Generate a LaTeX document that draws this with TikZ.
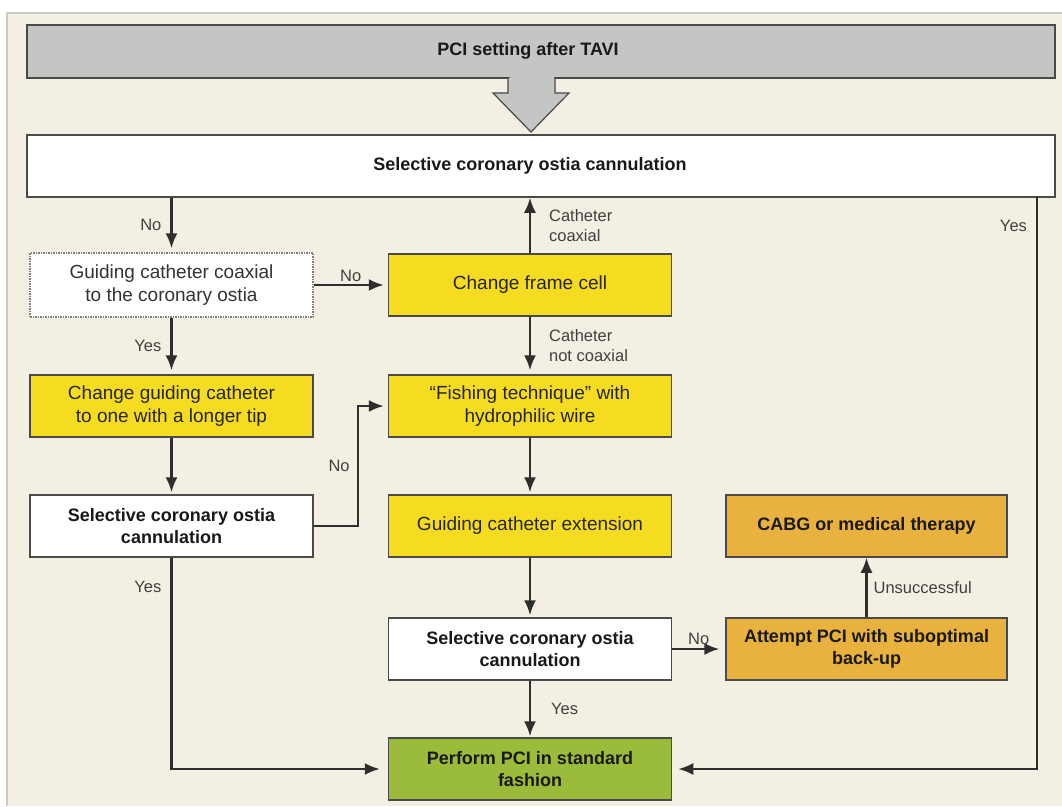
\documentclass[tikz,border=0pt]{standalone}
\usepackage{fontspec}
\setmainfont{Liberation Sans}
\usetikzlibrary{positioning,arrows.meta}

\definecolor{panelbg}{HTML}{F3F0E3}
\definecolor{panelline}{HTML}{C9C9C5}
\definecolor{headgray}{HTML}{C4C6C3}
\definecolor{boxline}{HTML}{4A4A4A}
\definecolor{stepyellow}{HTML}{F5DC20}
\definecolor{altorange}{HTML}{E9B23E}
\definecolor{pcigreen}{HTML}{9BBB3B}
\definecolor{flowline}{HTML}{2E2E2E}

\newcommand{\boldtext}{\fontsize{18}{22}\selectfont\bfseries}
\newcommand{\plaintext}{\fontsize{19}{23}\selectfont}
\newcommand{\lbltext}{\fontsize{16.5}{20}\selectfont}

\tikzset{
  box/.style={draw=boxline, line width=1.5pt, minimum width=283, minimum height=62, align=center, inner sep=2},
  whitebox/.style={box, fill=white, font=\boldtext, text=black!90},
  yellowbox/.style={box, fill=stepyellow, font=\plaintext, text=black!85},
  orangebox/.style={box, fill=altorange, font=\boldtext, text=black!90, minimum width=281},
  greenbox/.style={box, fill=pcigreen, font=\boldtext, text=black!90},
  flow/.style={draw=flowline, line width=2.2pt, -{Latex[length=15pt,width=12pt]}, shorten >=4},
  lbl/.style={font=\lbltext, text=black!75, align=left, inner sep=4}
}

\begin{document}
\begin{tikzpicture}[x=1pt,y=-1pt]
  \useasboundingbox (0,0) rectangle (1062,806);
  % Panel
  \fill[panelbg] (7,13) rectangle (1062,806);
  \draw[panelline, line width=1.5pt] (7,806) -- (7,13) -- (1062,13);
  % Header and block arrow
  \node[box, fill=headgray, minimum width=1028, minimum height=53] (head) at (541,51.5) {};
  \node[font=\boldtext, text=black!90] (headtext) at (528,51) {PCI setting after TAVI};
  \filldraw[fill=headgray, draw=boxline, line width=1.2pt] (508,78) -- (508,93) -- (493,93) -- (531,132) -- (569,93) -- (555,93) -- (555,78);
  \fill[headgray] (509.5,76) rectangle (553.5,79.5);
  \node[box, fill=white, minimum width=1028] (sel1) at (541,166) {};
  \node[font=\boldtext, text=black!90] (sel1text) at (530,166) {Selective coronary ostia cannulation};
  \coordinate (rtop) at (1037,197);

  % Left column
  \node[box, fill=white, draw=gray, densely dotted, minimum height=64, font=\plaintext, text=black!80] (coax) at (171.5,285) {Guiding catheter coaxial\\to the coronary ostia};
  \node[yellowbox] (longer) at (171.5,406) {Change guiding catheter\\to one with a longer tip};
  \node[whitebox] (sel2) at (171.5,526) {Selective coronary ostia\\cannulation};

  % Middle column
  \node[yellowbox] (frame) at (530,285) {Change frame cell};
  \node[yellowbox] (fish) at (530,406) {“Fishing technique” with\\hydrophilic wire};
  \node[yellowbox] (ext) at (530,526) {Guiding catheter extension};
  \node[whitebox] (sel3) at (530,649) {Selective coronary ostia\\cannulation};
  \node[greenbox] (pci) at (530,769) {Perform PCI in standard\\fashion};

  % Right column
  \node[orangebox] (cabg) at (866.5,526) {CABG or medical therapy};
  \node[orangebox] (attempt) at (866.5,649) {Attempt PCI with suboptimal\\back-up};

  % Connectors
  \draw[flow] (sel1.south -| coax) -- node[lbl,left=5]{No} (coax.north);
  \draw[flow] (coax.east) -- node[lbl,above=2]{No} (frame.west);
  \draw[flow] (coax.south) -- node[lbl,left=5]{Yes} (longer.north);
  \draw[flow, shorten >=2] (longer) -- (sel2);
  \draw[flow] (sel2.east) -- ++(44,0) |- node[lbl,left=3,pos=0.25]{No} (fish.west);
  \draw[flow, shorten >=8] (sel2.south) |- node[lbl,left=5,pos=0.07]{Yes} (pci.west);
  \draw[flow, shorten >=0] (frame.north) -- node[lbl,right=14]{Catheter\\coaxial} (sel1.south -| frame);
  \draw[flow] (frame) -- node[lbl,right=14]{Catheter\\not coaxial} (fish);
  \foreach \a/\b in {fish/ext, ext/sel3} {
    \draw[flow, shorten >=2] (\a) -- (\b);
  }
  \draw[flow, shorten >=6] (sel3) -- node[lbl,above=1]{No} (attempt);
  \draw[flow, shorten >=0] (attempt.north) -- node[lbl,right=2]{Unsuccessful} (cabg.south);
  \draw[flow, shorten >=1] (sel3) -- node[lbl,right=16]{Yes} (pci);
  \draw[flow, shorten >=6] (rtop) |- node[lbl,left=5,pos=0.025]{Yes} (pci.east);
\end{tikzpicture}
\end{document}
